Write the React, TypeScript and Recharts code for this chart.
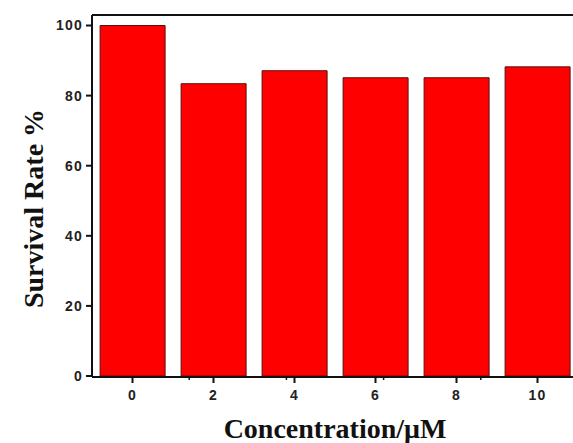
import React from "react";
import { BarChart, Bar, XAxis, YAxis } from "recharts";

// concentrations (µM) and survival rates
const concentrations = ["0", "2", "4", "6", "8", "10"];
const survivalRates = [100, 83.4, 87.1, 85.1, 85.1, 88.2];
const yTicks = [0, 20, 40, 60, 80, 100];
const minorXTicks = [1, 2, 3, 4, 5];

const data = concentrations.map((c, i) => ({ conc: c, rate: survivalRates[i] }));

const tickFont = {
  fontFamily: "Arial, 'Liberation Sans', sans-serif",
  fontWeight: 700,
  fontSize: 14,
  letterSpacing: 1.2,
  fill: "#222",
};

const titleFont = {
  fontFamily: "'Times New Roman', 'Liberation Serif', serif",
  fontWeight: 700,
  fontSize: 28,
  fill: "#111",
};

const XTitle = ({ viewBox }: any) => (
  <text
    x={viewBox.x + viewBox.width / 2}
    y={viewBox.y + viewBox.height - 5}
    textAnchor="middle"
    style={titleFont}
  >
    Concentration/μM
  </text>
);

const YTitle = ({ viewBox }: any) => {
  const cx = 43;
  const cy = viewBox.y + viewBox.height / 2 + 13;
  return (
    <text
      x={cx}
      y={cy}
      transform={`rotate(-90, ${cx}, ${cy})`}
      textAnchor="middle"
      style={titleFont}
    >
      Survival Rate %
    </text>
  );
};

export default function App() {
  return (
    <div style={{ position: "fixed", top: 0, left: 0, width: 573, height: 443, overflow: "hidden", background: "#fff" }}>
      <BarChart
        width={600}
        height={443}
        data={data}
        margin={{ top: 14, right: 22, bottom: 0, left: 0 }}
        barCategoryGap="10%"
      >
        {/* frame top line */}
        <XAxis
          xAxisId="top"
          orientation="top"
          dataKey="conc"
          tick={false}
          tickLine={false}
          axisLine={{ stroke: "#111", strokeWidth: 2 }}
          height={1}
        />
        {/* minor ticks between categories */}
        <XAxis
          xAxisId="a_minor"
          type="number"
          domain={[0, 6]}
          ticks={minorXTicks}
          tickFormatter={() => ""}
          tickSize={4}
          tickLine={{ stroke: "#111", strokeWidth: 1.5 }}
          axisLine={false}
          height={1}
        />
        <XAxis
          xAxisId="b_main"
          dataKey="conc"
          tick={{ ...tickFont }}
          tickSize={6}
          tickMargin={7}
          tickLine={{ stroke: "#111", strokeWidth: 2 }}
          axisLine={{ stroke: "#111", strokeWidth: 2 }}
          label={<XTitle />}
          height={66}
        />
        <YAxis
          domain={[0, 103]}
          ticks={yTicks}
          width={92}
          tick={{ ...tickFont }}
          tickSize={6}
          tickMargin={3}
          tickLine={{ stroke: "#111", strokeWidth: 2 }}
          axisLine={{ stroke: "#111", strokeWidth: 2 }}
          allowDataOverflow
          label={<YTitle />}
        />
        <Bar
          xAxisId="b_main"
          dataKey="rate"
          fill="#ff0000"
          stroke="#5a1010"
          strokeWidth={1}
          isAnimationActive={false}
        />
      </BarChart>
    </div>
  );
}
